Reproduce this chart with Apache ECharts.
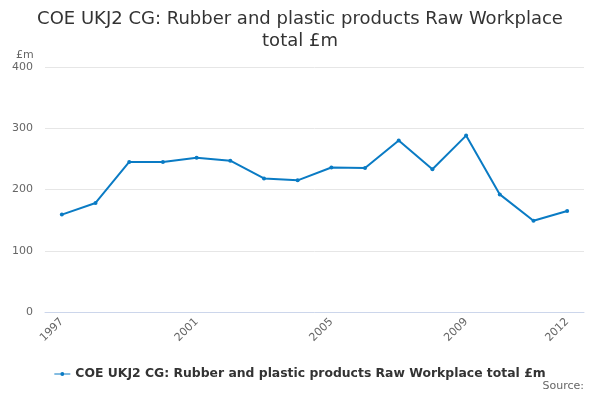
<!DOCTYPE html>
<html><head><meta charset="utf-8">
<script src="https://cdn.jsdelivr.net/npm/echarts@6/dist/echarts.min.js"></script>
<style>html,body{margin:0;padding:0;background:#fff}#c{width:600px;height:400px}</style>
</head><body><div id="c"></div>
<script>
const categories = ['1997','1998','1999','2000','2001','2002','2003','2004','2005','2006','2007','2008','2009','2010','2011','2012'];
const values = [159,178,245,245,252,247,218,215,236,235,280,233,288,192,149,165];
const yTicks = [0,100,200,300,400];
const seriesName = 'COE UKJ2 CG: Rubber and plastic products Raw Workplace total £m';
const shownLabels = ['1997','2001','2005','2009','2012'];
const font = 'DejaVu Sans';
const chart = echarts.init(document.getElementById('c'));
chart.setOption({
  animation:false,
  textStyle:{fontFamily:font},
  title:[{text:'COE UKJ2 CG: Rubber and plastic products Raw Workplace\ntotal £m',left:'center',top:3,
    textStyle:{fontFamily:font,fontSize:18,fontWeight:'normal',color:'#333',lineHeight:22}},
    {text:'£m',left:11,top:45,textStyle:{fontFamily:font,fontSize:11,fontWeight:'normal',color:'#666'}},
    {text:'Source:',right:11,bottom:3,textStyle:{fontFamily:font,fontSize:11,fontWeight:'normal',color:'#666'}}],
  legend:{bottom:15,left:'center',itemWidth:16,itemHeight:8,
    icon:'path://M0,3.4 L16,3.4 L16,4.6 L0,4.6 Z M8,2 A2,2 0 1,1 7.99,2 Z',
    textStyle:{fontFamily:font,fontSize:12.4,fontWeight:'bold',color:'#333'},data:[seriesName]},
  grid:{left:45,right:16,top:67,bottom:88},
  xAxis:{type:'category',data:categories,boundaryGap:true,
    axisLine:{lineStyle:{color:'#ccd6eb'}},
    axisTick:{alignWithLabel:true,interval:0,length:10,lineStyle:{color:'#ccd6eb'}},
    axisLabel:{rotate:45,color:'#666',fontSize:11,fontFamily:font,margin:8,
      interval:(i,v)=>shownLabels.includes(v)}},
  yAxis:{type:'value',min:yTicks[0],max:yTicks[yTicks.length-1],interval:100,
    axisLine:{show:false},axisTick:{show:false},
    axisLabel:{color:'#666',fontSize:11,fontFamily:font,margin:12},
    splitLine:{lineStyle:{color:'#e6e6e6'}}},
  series:[{name:seriesName,type:'line',data:values,color:'#0a7bc4',
    lineStyle:{width:2},symbol:'circle',symbolSize:4,showSymbol:true}]
});
</script></body></html>
